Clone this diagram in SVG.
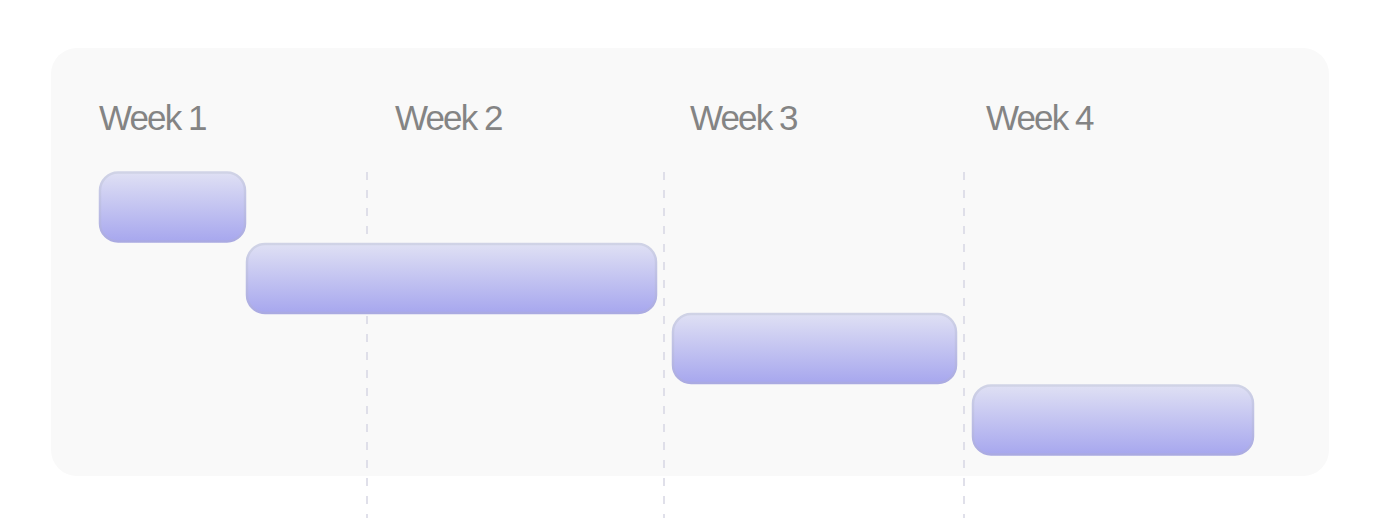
<svg xmlns="http://www.w3.org/2000/svg" width="1380" height="530" viewBox="0 0 1380 530">
  <defs>
    <linearGradient id="barFill" x1="0" y1="0" x2="0" y2="1">
      <stop offset="0" stop-color="#dfe0f4"/>
      <stop offset="1" stop-color="#a7a7ee"/>
    </linearGradient>
    <linearGradient id="barStroke" x1="0" y1="0" x2="0" y2="1">
      <stop offset="0" stop-color="#d0d3e6"/>
      <stop offset="1" stop-color="#aaaae2"/>
    </linearGradient>
  </defs>
  <style>
    .week { font-family: "Liberation Sans", Arial, sans-serif; font-size: 35px; fill: #848484; letter-spacing: -1.9px; }
    .bar { fill: url(#barFill); stroke: url(#barStroke); stroke-width: 2.5; }
    .grid { stroke: #d6d6e4; stroke-width: 1.5; stroke-dasharray: 8 10; fill: none; }
  </style>
  <rect x="0" y="0" width="1380" height="530" fill="#ffffff"/>
  <rect id="panel" x="51" y="48" width="1278" height="428" rx="26" fill="#f9f9f9"/>
  <g id="connectors">
    <line class="grid" x1="367" y1="172" x2="367" y2="518"/>
    <line class="grid" x1="664" y1="172" x2="664" y2="518"/>
    <line class="grid" x1="964" y1="172" x2="964" y2="518"/>
  </g>
  <g id="labels">
    <text class="week" x="99" y="130">Week 1</text>
    <text class="week" x="395" y="130">Week 2</text>
    <text class="week" x="690" y="130">Week 3</text>
    <text class="week" x="986" y="130">Week 4</text>
  </g>
  <g id="task1"><rect class="bar" x="100" y="172.5" width="145" height="69" rx="18"/></g>
  <g id="task2"><rect class="bar" x="247" y="244" width="409" height="69" rx="18"/></g>
  <g id="task3"><rect class="bar" x="673" y="314" width="283" height="69" rx="18"/></g>
  <g id="task4"><rect class="bar" x="973" y="385.5" width="280" height="69" rx="18"/></g>
</svg>
